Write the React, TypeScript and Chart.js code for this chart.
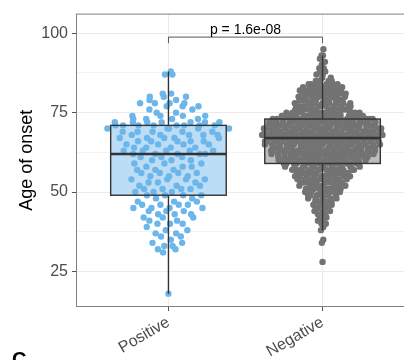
import React, { useEffect, useRef } from 'react';
import { Chart, registerables } from 'chart.js';

Chart.register(...registerables);

// ---- data ----
const categories = ['Positive', 'Negative'];

// Positive group: age of onset -> number of patients
const positiveAges = [18, 31, 32, 33, 34, 35, 36, 37, 38, 39, 40, 41, 42, 43, 44, 45, 46, 47, 48,
  49, 50, 51, 52, 53, 54, 55, 56, 57, 58, 59, 60, 61,
  62, 63, 64, 65, 66, 67, 68, 69, 70,
  71, 72, 73, 74, 75, 76, 77, 78, 79, 80, 81, 87, 88];
const positiveCounts = [1, 1, 2, 2, 2, 1, 2, 2, 2, 1, 3, 2, 3, 3, 3, 4, 4, 3, 2,
  4, 3, 4, 3, 3, 4, 3, 4, 3, 3, 3, 3, 3,
  5, 5, 4, 4, 5, 5, 5, 5, 5,
  8, 7, 4, 4, 2, 2, 3, 4, 2, 3, 2, 2, 1];

// Negative group: age of onset -> number of patients
const negativeAges = [28, 34, 35, 38, 39, 40, 41, 42, 43, 44, 45, 46, 47, 48, 49, 50, 51, 52, 53, 54,
  55, 56, 57, 58, 59, 60, 61, 62, 63, 64, 65, 66, 67, 68, 69, 70, 71, 72, 73, 74,
  75, 76, 77, 78, 79, 80, 81, 82, 83, 84, 85, 86, 87, 88, 89, 90, 91, 92, 93, 95];
const negativeCounts = [1, 1, 1, 1, 1, 2, 2, 2, 3, 3, 4, 4, 5, 5, 7, 7, 8, 9, 10, 10,
  11, 11, 13, 14, 16, 17, 19, 20, 21, 21, 22, 22, 24, 24, 23, 22, 22, 22, 21, 16,
  14, 12, 11, 10, 10, 10, 9, 9, 9, 8, 4, 2, 2, 2, 2, 1, 1, 1, 2, 1];

const yMajorTicks = [25, 50, 75, 100];
const yMinorTicks = [37.5, 62.5, 87.5];
const yAxisTitle = 'Age of onset';
const pValueLabel = 'p = 1.6e-08';

const pointColors = ['#6DB6EB', '#737373'];
const boxFills = ['#BBDDF5', '#BDBDBD'];
const FONT = "'Liberation Sans', Arial, Helvetica, sans-serif";

// ---- helpers ----
function expand(ages: number[], counts: number[]) {
  const out: number[] = [];
  ages.forEach((a, i) => { for (let k = 0; k < counts[i]; k++) out.push(a); });
  return out;
}

function quantile(sorted: number[], p: number) {
  const h = (sorted.length - 1) * p;
  const lo = Math.floor(h);
  const hi = Math.ceil(h);
  return sorted[lo] + (h - lo) * (sorted[hi] - sorted[lo]);
}

function boxStats(vals: number[]) {
  const s = [...vals].sort((a, b) => a - b);
  const q1 = quantile(s, 0.25);
  const med = quantile(s, 0.5);
  const q3 = quantile(s, 0.75);
  const iqr = q3 - q1;
  const lo = s.find((v) => v >= q1 - 1.5 * iqr) as number;
  const hi = [...s].reverse().find((v) => v <= q3 + 1.5 * iqr) as number;
  return { q1, med, q3, lo, hi };
}

function vanDerCorput(i: number) {
  let r = 0;
  let f = 0.5;
  while (i > 0) { r += f * (i % 2); i = Math.floor(i / 2); f /= 2; }
  return r;
}

// quasirandom (vipor-like) horizontal offsets, in category units
function quasiOffsets(vals: number[], width = 0.4, adjust = 0.5) {
  const n = vals.length;
  const s = [...vals].sort((a, b) => a - b);
  const mean = s.reduce((a, b) => a + b, 0) / n;
  const sd = Math.sqrt(s.reduce((a, b) => a + (b - mean) * (b - mean), 0) / (n - 1));
  const iqr = quantile(s, 0.75) - quantile(s, 0.25);
  const bw = 0.9 * Math.min(sd, iqr / 1.34) * Math.pow(n, -0.2) * adjust;
  const dens = (y: number) => {
    let t = 0;
    for (let i = 0; i < n; i++) { const z = (y - s[i]) / bw; t += Math.exp(-0.5 * z * z); }
    return t;
  };
  let maxD = 0;
  const g0 = s[0] - 3 * bw;
  const g1 = s[n - 1] + 3 * bw;
  for (let k = 0; k < 512; k++) maxD = Math.max(maxD, dens(g0 + (g1 - g0) * k / 511));
  const order = vals.map((v, i) => i).sort((a, b) => (vals[a] - vals[b]) || (a - b));
  const offsets = new Array(n).fill(0);
  order.forEach((idx, rank) => {
    const q = (vanDerCorput(rank + 1) - 0.5) * 2;
    offsets[idx] = q * width * dens(vals[idx]) / maxD;
  });
  return offsets;
}

const groups = [expand(positiveAges, positiveCounts), expand(negativeAges, negativeCounts)];

export default function App() {
  const ref = useRef<HTMLCanvasElement | null>(null);

  useEffect(() => {
    if (!ref.current) return;
    const stats = groups.map(boxStats);
    const datasets = groups.map((vals, gi) => {
      const offs = quasiOffsets(vals);
      return {
        type: 'scatter' as const,
        label: categories[gi],
        data: vals.map((v, i) => ({ x: gi + 1 + offs[i], y: v })),
        backgroundColor: pointColors[gi],
        borderWidth: 0,
        pointRadius: 3.2,
        pointHoverRadius: 3.2,
      };
    });

    const halfBox = 0.375;
    const boxPlugin = {
      id: 'boxes',
      beforeDatasetsDraw(chart: any) {
        const { ctx } = chart;
        const xs = chart.scales.x;
        const ys = chart.scales.y;
        ctx.save();
        stats.forEach((st, gi) => {
          const x0 = xs.getPixelForValue(gi + 1 - halfBox);
          const x1 = xs.getPixelForValue(gi + 1 + halfBox);
          const y0 = ys.getPixelForValue(st.q3);
          const y1 = ys.getPixelForValue(st.q1);
          ctx.fillStyle = boxFills[gi];
          ctx.fillRect(x0, y0, x1 - x0, y1 - y0);
        });
        ctx.restore();
      },
      afterDatasetsDraw(chart: any) {
        const { ctx, chartArea } = chart;
        const xs = chart.scales.x;
        const ys = chart.scales.y;
        ctx.save();
        ctx.strokeStyle = '#333333';
        stats.forEach((st, gi) => {
          const xc = xs.getPixelForValue(gi + 1);
          const x0 = xs.getPixelForValue(gi + 1 - halfBox);
          const x1 = xs.getPixelForValue(gi + 1 + halfBox);
          const yq3 = ys.getPixelForValue(st.q3);
          const yq1 = ys.getPixelForValue(st.q1);
          ctx.lineWidth = 1.4;
          ctx.beginPath();
          ctx.moveTo(xc, yq3); ctx.lineTo(xc, ys.getPixelForValue(st.hi));
          ctx.moveTo(xc, yq1); ctx.lineTo(xc, ys.getPixelForValue(st.lo));
          ctx.stroke();
          ctx.strokeRect(x0, yq3, x1 - x0, yq1 - yq3);
          ctx.lineWidth = 2.6;
          const ym = ys.getPixelForValue(st.med);
          ctx.beginPath();
          ctx.moveTo(x0, ym); ctx.lineTo(x1, ym);
          ctx.stroke();
        });
        // significance bracket
        const bY = ys.getPixelForValue(98.8);
        const tY = ys.getPixelForValue(96.9);
        const bx0 = xs.getPixelForValue(1);
        const bx1 = xs.getPixelForValue(2);
        ctx.strokeStyle = '#555555';
        ctx.lineWidth = 1;
        ctx.beginPath();
        ctx.moveTo(bx0, tY); ctx.lineTo(bx0, bY); ctx.lineTo(bx1, bY); ctx.lineTo(bx1, tY);
        ctx.stroke();
        ctx.fillStyle = '#000000';
        ctx.font = `14px ${FONT}`;
        ctx.textAlign = 'center';
        ctx.textBaseline = 'alphabetic';
        ctx.fillText(pValueLabel, (bx0 + bx1) / 2, bY - 3);
        // panel border
        ctx.strokeStyle = '#808080';
        ctx.lineWidth = 1;
        ctx.strokeRect(chartArea.left + 0.5, chartArea.top + 0.5,
          chartArea.right - chartArea.left - 1, chartArea.bottom - chartArea.top - 1);
        ctx.restore();
      },
      afterDraw(chart: any) {
        const { ctx } = chart;
        ctx.save();
        ctx.fillStyle = '#000000';
        ctx.font = `bold 20px ${FONT}`;
        ctx.textAlign = 'left';
        ctx.textBaseline = 'alphabetic';
        ctx.fillText('C', 12, 366);
        ctx.restore();
      },
    };

    const chart = new Chart(ref.current, {
      type: 'scatter',
      data: { datasets },
      options: {
        animation: false,
        responsive: false,
        devicePixelRatio: 1,
        layout: { padding: { left: 0, right: 5, top: 10, bottom: 0 } },
        plugins: { legend: { display: false }, tooltip: { enabled: false } },
        scales: {
          x: {
            type: 'linear',
            min: 0.4,
            max: 2.6,
            afterBuildTicks: (scale: any) => { scale.ticks = categories.map((c, i) => ({ value: i + 1 })); },
            afterFit: (scale: any) => { scale.height = 53; },
            border: { display: false },
            grid: { color: '#EBEBEB', lineWidth: 1, tickColor: '#555555', tickLength: 4, drawTicks: true },
            ticks: {
              autoSkip: false,
              minRotation: 30,
              maxRotation: 30,
              padding: 2,
              color: '#4D4D4D',
              font: { family: FONT, size: 16 },
              callback: (v: any) => categories[Math.round(Number(v)) - 1] ?? '',
            },
          },
          y: {
            type: 'linear',
            min: 13.8,
            max: 106.2,
            afterBuildTicks: (scale: any) => {
              scale.ticks = [...yMajorTicks, ...yMinorTicks].sort((a, b) => a - b).map((v) => ({ value: v }));
            },
            afterFit: (scale: any) => { scale.width = 76; },
            border: { display: false },
            grid: {
              color: (c: any) => (yMajorTicks.includes(c.tick?.value) ? '#EBEBEB' : '#F3F3F3'),
              tickColor: (c: any) => (yMajorTicks.includes(c.tick?.value) ? '#555555' : 'rgba(0,0,0,0)'),
              tickLength: 4,
              drawTicks: true,
            },
            ticks: {
              autoSkip: false,
              padding: 4,
              color: '#4D4D4D',
              font: { family: FONT, size: 16 },
              callback: (v: any) => (yMajorTicks.includes(Number(v)) ? String(v) : ''),
            },
            title: {
              display: true,
              text: yAxisTitle,
              color: '#000000',
              font: { family: FONT, size: 18 },
              padding: { top: 16, bottom: 0 },
            },
          },
        },
      },
      plugins: [boxPlugin],
    } as any);
    return () => chart.destroy();
  }, []);

  return (
    <div style={{ position: 'fixed', left: 0, top: 0, width: 404, height: 360, overflow: 'hidden', background: '#ffffff' }}>
      <canvas ref={ref} width={420} height={360} style={{ width: 420, height: 360, display: 'block' }} />
    </div>
  );
}
